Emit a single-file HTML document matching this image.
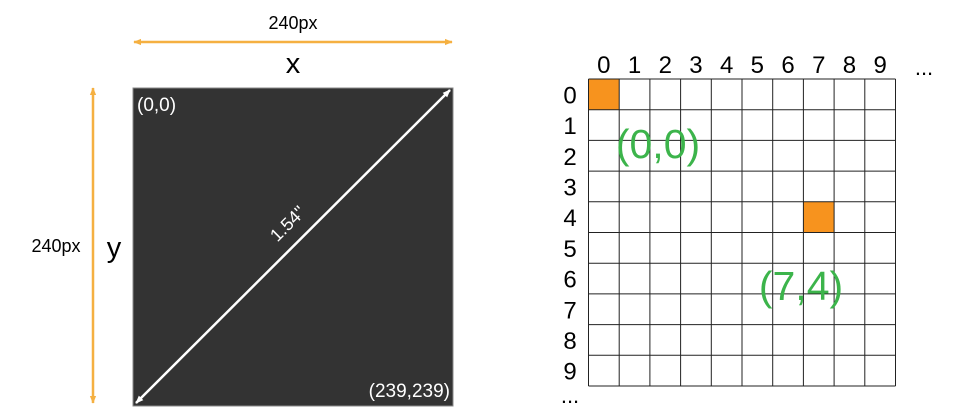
<!DOCTYPE html>
<html><head><meta charset="utf-8"><style>
html,body{margin:0;padding:0;background:#fff;}
svg{display:block;font-family:"Liberation Sans",sans-serif;}
</style></head><body>
<svg width="961" height="420" viewBox="0 0 961 420">
<defs>
<marker id="oa" viewBox="0 0 10 10" refX="9" refY="5" markerWidth="3.2" markerHeight="3.2" orient="auto-start-reverse"><path d="M0,1 L10,5 L0,9 z" fill="#f5b041"/></marker>
<marker id="wa" viewBox="0 0 10 10" refX="9" refY="5" markerWidth="3.2" markerHeight="3.2" orient="auto-start-reverse"><path d="M0,1 L10,5 L0,9 z" fill="#fff"/></marker>
</defs>
<text x="293" y="29" font-size="18" text-anchor="middle">240px</text>
<line x1="134" y1="42" x2="452" y2="42" stroke="#f5b041" stroke-width="2.5" marker-start="url(#oa)" marker-end="url(#oa)"/>
<text x="293" y="73" font-size="29" text-anchor="middle">x</text>
<line x1="93" y1="88" x2="93" y2="403" stroke="#f5b041" stroke-width="2.5" marker-start="url(#oa)" marker-end="url(#oa)"/>
<text x="56" y="252" font-size="18" text-anchor="middle">240px</text>
<text x="114" y="257" font-size="29" text-anchor="middle">y</text>
<rect x="133" y="88" width="320" height="318" fill="#333" stroke="#888" stroke-width="1"/>
<line x1="136" y1="403" x2="450" y2="90" stroke="#fff" stroke-width="2.5" marker-start="url(#wa)" marker-end="url(#wa)"/>
<text x="0" y="0" font-size="18" fill="#fff" text-anchor="middle" transform="translate(292,228) rotate(-45)">1.54"</text>
<text x="137" y="111" font-size="19" fill="#fff">(0,0)</text>
<text x="450" y="397" font-size="19" fill="#fff" text-anchor="end">(239,239)</text>
<g id="grid"></g>
<text x="924" y="75" font-size="22" text-anchor="middle">...</text>
<text x="570" y="403" font-size="22" text-anchor="middle">...</text>
<text x="658" y="158" font-size="41" fill="#3cb44b" text-anchor="middle">(0,0)</text>
<text x="801" y="300" font-size="41" fill="#3cb44b" text-anchor="middle">(7,4)</text>
</svg>
<script>
const cols=[0,1,2,3,4,5,6,7,8,9];
const rows=[0,1,2,3,4,5,6,7,8,9];
const highlighted=[[0,0],[7,4]];
const g=document.getElementById('grid');
const NS='http://www.w3.org/2000/svg';
const x0=588.5,y0=79,c=30.7;
highlighted.forEach(h=>{
 const r=document.createElementNS(NS,'rect');
 r.setAttribute('x',x0+h[0]*c);r.setAttribute('y',y0+h[1]*c);
 r.setAttribute('width',c);r.setAttribute('height',c);r.setAttribute('fill','#f7931e');
 
 
 g.appendChild(r);
});
for(let i=0;i<=cols.length;i++){
 const l=document.createElementNS(NS,'line');
 l.setAttribute('x1',x0+i*c);l.setAttribute('x2',x0+i*c);l.setAttribute('y1',y0);l.setAttribute('y2',y0+rows.length*c);
 l.setAttribute('stroke','#222');l.setAttribute('stroke-width','1');
 
 
 g.appendChild(l);
}
for(let j=0;j<=rows.length;j++){
 const l=document.createElementNS(NS,'line');
 l.setAttribute('y1',y0+j*c);l.setAttribute('y2',y0+j*c);l.setAttribute('x1',x0);l.setAttribute('x2',x0+cols.length*c);
 l.setAttribute('stroke','#222');l.setAttribute('stroke-width','1');
 
 
 g.appendChild(l);
}
cols.forEach((v,i)=>{
 const t=document.createElementNS(NS,'text');
 t.setAttribute('x',x0+(i+0.5)*c);t.setAttribute('y',73);t.setAttribute('font-size','24');t.setAttribute('text-anchor','middle');
 t.textContent=v;
 
 
 g.appendChild(t);
});
rows.forEach((v,j)=>{
 const t=document.createElementNS(NS,'text');
 t.setAttribute('x',570);t.setAttribute('y',y0+(j+0.5)*c+9);t.setAttribute('font-size','24');t.setAttribute('text-anchor','middle');
 t.textContent=v;
 
 
 g.appendChild(t);
});
</script>
</body></html>
